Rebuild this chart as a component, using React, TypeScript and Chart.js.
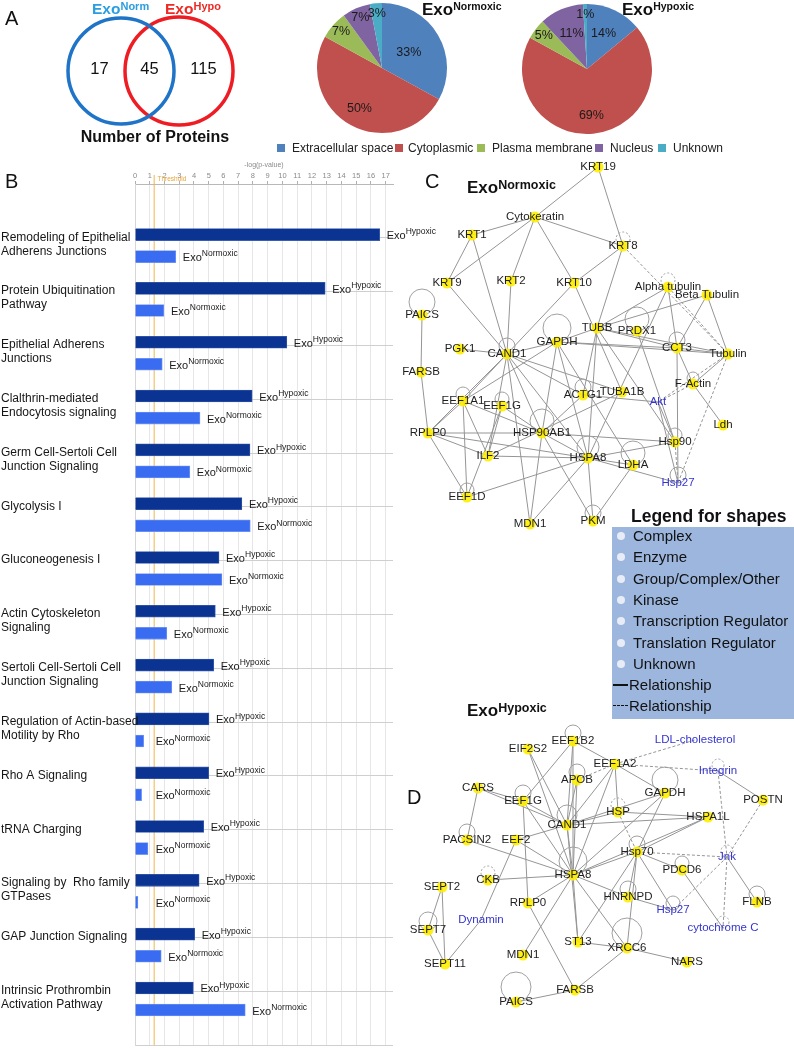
import React, { useEffect, useRef } from "react";
import { Chart, registerables } from "chart.js";

Chart.register(...registerables);

const FONT = '"Liberation Sans", Arial, Helvetica, sans-serif';

// ---------- Panel A: Venn ----------
const vennCounts = [17, 45, 115];
const vennSetNames = ["Norm", "Hypo"];
const vennColors = ["#1f74c7", "#ee1d23"];

// ---------- Panel A: pies ----------
const locations = ["Extracellular space", "Cytoplasmic", "Plasma membrane", "Nucleus", "Unknown"];
const normoxicPct = [33, 50, 7, 7, 3];
const hypoxicPct = [14, 69, 5, 11, 1];
const locationColors = ["#4F81BD", "#C0504D", "#9BBB59", "#8064A2", "#4BACC6"];

// ---------- Panel B: pathways ----------
const pathways: string[][] = [
  ["Remodeling of Epithelial", "Adherens Junctions"],
  ["Protein Ubiquitination", "Pathway"],
  ["Epithelial Adherens", "Junctions"],
  ["Clalthrin-mediated", "Endocytosis signaling"],
  ["Germ Cell-Sertoli Cell", "Junction Signaling"],
  ["Glycolysis I"],
  ["Gluconeogenesis I"],
  ["Actin Cytoskeleton", "Signaling"],
  ["Sertoli Cell-Sertoli Cell", "Junction Signaling"],
  ["Regulation of Actin-based", "Motility by Rho"],
  ["Rho A Signaling"],
  ["tRNA Charging"],
  ["Signaling by  Rho family", "GTPases"],
  ["GAP Junction Signaling"],
  ["Intrinsic Prothrombin", "Activation Pathway"],
];
const hypoxicLogP = [16.6, 12.9, 10.3, 7.95, 7.8, 7.25, 5.7, 5.45, 5.34, 5.02, 5.0, 4.66, 4.35, 4.05, 3.96];
const normoxicLogP = [2.77, 1.96, 1.85, 4.41, 3.72, 7.82, 5.9, 2.16, 2.5, 0.59, 0.45, 0.88, 0.2, 1.78, 7.48];
const pValueTicks = [0, 1, 2, 3, 4, 5, 6, 7, 8, 9, 10, 11, 12, 13, 14, 15, 16, 17];
const thresholdValue = 1.3;

// ---------- Panels C / D: networks ----------
type NodeRow = [string, number, number, string];
type EdgeRow = [string, string, number?];
type LoopRow = [string, number, number?];

const networkNormoxicNodes: NodeRow[] = [
  ["KRT19", 203, 12, "y"], ["Cytokeratin", 140, 62, "y"], ["KRT1", 77, 80, "y"], ["KRT8", 228, 91, "y"],
  ["KRT9", 52, 128, "y"], ["KRT2", 116, 126, "y"], ["KRT10", 179, 128, "y"], ["Alpha tubulin", 273, 132, "y"],
  ["Beta Tubulin", 312, 140, "y"], ["PAICS", 27, 160, "y"], ["TUBB", 202, 173, "y"], ["PRDX1", 242, 176, "y"],
  ["GAPDH", 162, 187, "y"], ["PGK1", 65, 194, "y"], ["CAND1", 112, 199, "y"], ["CCT3", 282, 193, "y"],
  ["Tubulin", 333, 199, "y"], ["FARSB", 26, 217, "y"], ["F-Actin", 298, 229, "y"], ["EEF1A1", 68, 246, "y"],
  ["EEF1G", 107, 251, "y"], ["ACTG1", 188, 240, "y"], ["TUBA1B", 227, 237, "y"], ["Akt", 263, 247, "b"],
  ["Ldh", 328, 270, "y"], ["RPLP0", 33, 278, "y"], ["HSP90AB1", 147, 278, "y"], ["Hsp90", 280, 287, "y"],
  ["ILF2", 93, 301, "y"], ["HSPA8", 193, 303, "y"], ["LDHA", 238, 310, "y"], ["Hsp27", 283, 328, "b"],
  ["EEF1D", 72, 342, "y"], ["MDN1", 135, 369, "y"], ["PKM", 198, 366, "y"],
];
const networkNormoxicEdges: EdgeRow[] = [
  ["KRT19", "Cytokeratin"], ["KRT19", "KRT8"], ["Cytokeratin", "KRT1"], ["Cytokeratin", "KRT2"],
  ["Cytokeratin", "KRT10"], ["Cytokeratin", "KRT8"], ["Cytokeratin", "KRT9"], ["KRT1", "KRT9"],
  ["KRT1", "CAND1"], ["KRT8", "KRT10"], ["KRT8", "TUBB"], ["KRT8", "Tubulin", 1], ["KRT9", "CAND1"],
  ["KRT2", "CAND1"], ["KRT10", "CAND1"], ["KRT10", "TUBA1B"], ["PAICS", "FARSB"], ["FARSB", "RPLP0"],
  ["Alpha tubulin", "TUBB"], ["Beta Tubulin", "TUBB"], ["Alpha tubulin", "Tubulin", 1], ["Beta Tubulin", "Tubulin"],
  ["Alpha tubulin", "CCT3"], ["Beta Tubulin", "CCT3"], ["Alpha tubulin", "HSPA8"], ["GAPDH", "CAND1"],
  ["GAPDH", "HSPA8"], ["GAPDH", "TUBB"], ["GAPDH", "HSP90AB1"], ["GAPDH", "Tubulin"], ["GAPDH", "CCT3"],
  ["GAPDH", "EEF1A1"], ["GAPDH", "LDHA"], ["PGK1", "CAND1"], ["CAND1", "EEF1A1"], ["CAND1", "RPLP0"],
  ["CAND1", "HSP90AB1"], ["CAND1", "HSPA8"], ["CAND1", "ILF2"], ["CAND1", "ACTG1"], ["CAND1", "TUBA1B"],
  ["CAND1", "MDN1"], ["TUBB", "CCT3"], ["TUBB", "Tubulin"], ["TUBB", "ACTG1"], ["TUBB", "HSPA8"],
  ["TUBB", "Hsp90"], ["PRDX1", "Hsp90"], ["CCT3", "Tubulin"], ["CCT3", "F-Actin"], ["CCT3", "Hsp27"],
  ["Tubulin", "F-Actin"], ["Tubulin", "Akt", 1], ["F-Actin", "Ldh"], ["F-Actin", "Akt", 1], ["Akt", "Hsp90"],
  ["Akt", "Hsp27"], ["Hsp90", "Hsp27", 1], ["Hsp90", "HSPA8"], ["Tubulin", "Hsp27", 1], ["EEF1A1", "RPLP0"],
  ["EEF1A1", "EEF1D"], ["EEF1A1", "ILF2"], ["EEF1G", "ILF2"], ["EEF1G", "EEF1D"], ["EEF1G", "HSP90AB1"],
  ["EEF1A1", "HSP90AB1"], ["RPLP0", "EEF1D"], ["RPLP0", "ILF2"], ["RPLP0", "HSP90AB1"], ["RPLP0", "HSPA8"],
  ["HSP90AB1", "MDN1"], ["HSP90AB1", "PKM"], ["HSP90AB1", "HSPA8"], ["HSP90AB1", "ACTG1"], ["HSP90AB1", "Hsp90"],
  ["HSPA8", "LDHA"], ["HSPA8", "Hsp27"], ["HSPA8", "PKM"], ["HSPA8", "MDN1"], ["HSPA8", "EEF1D"],
  ["LDHA", "PKM"], ["ILF2", "HSPA8"], ["ILF2", "TUBA1B"], ["ACTG1", "Akt"],
];
const networkNormoxicLoops: LoopRow[] = [
  ["PAICS", 13], ["GAPDH", 14], ["PRDX1", 12], ["CAND1", 8], ["CCT3", 8], ["HSP90AB1", 12], ["HSPA8", 11],
  ["LDHA", 12], ["Hsp90", 7], ["Hsp27", 8], ["EEF1D", 7], ["EEF1A1", 7], ["EEF1G", 7], ["ACTG1", 8],
  ["KRT8", 7, 1], ["Alpha tubulin", 7, 1], ["PKM", 8], ["F-Actin", 6],
];

const networkHypoxicNodes: NodeRow[] = [
  ["EIF2S2", 133, 59, "y"], ["EEF1B2", 178, 51, "y"], ["LDL-cholesterol", 300, 50, "b"], ["EEF1A2", 220, 74, "y"],
  ["Integrin", 323, 81, "b"], ["APOB", 182, 90, "y"], ["CARS", 83, 98, "y"], ["GAPDH", 270, 103, "y"],
  ["POSTN", 368, 110, "y"], ["EEF1G", 128, 111, "y"], ["HSP", 223, 122, "y"], ["HSPA1L", 313, 127, "y"],
  ["CAND1", 172, 135, "y"], ["PACSIN2", 72, 150, "y"], ["EEF2", 121, 150, "y"], ["Hsp70", 242, 162, "y"],
  ["Jnk", 332, 167, "b"], ["PDCD6", 287, 180, "y"], ["CKB", 93, 190, "y"], ["HSPA8", 178, 185, "y"],
  ["SEPT2", 47, 197, "y"], ["HNRNPD", 233, 207, "y"], ["FLNB", 362, 212, "y"], ["RPLP0", 133, 213, "y"],
  ["Hsp27", 278, 220, "b"], ["Dynamin", 86, 230, "b"], ["cytochrome C", 328, 238, "b"], ["SEPT7", 33, 240, "y"],
  ["ST13", 183, 252, "y"], ["XRCC6", 232, 258, "y"], ["MDN1", 128, 265, "y"], ["NARS", 292, 272, "y"],
  ["SEPT11", 50, 274, "y"], ["FARSB", 180, 300, "y"], ["PAICS", 121, 312, "y"],
];
const networkHypoxicEdges: EdgeRow[] = [
  ["EIF2S2", "HSPA8"], ["EIF2S2", "CAND1"], ["EEF1B2", "EEF1A2"], ["EEF1B2", "CAND1"], ["EEF1B2", "EEF1G"],
  ["EEF1B2", "HSPA8"], ["EEF1A2", "LDL-cholesterol", 1], ["EEF1A2", "Integrin", 1], ["EEF1A2", "GAPDH"],
  ["EEF1A2", "APOB", 1], ["EEF1A2", "CAND1"], ["EEF1A2", "HSP"], ["EEF1A2", "HSPA8"], ["Integrin", "POSTN"],
  ["Integrin", "Jnk", 1], ["APOB", "CAND1"], ["APOB", "HSPA8"], ["CARS", "EEF1G"], ["CARS", "CAND1"],
  ["CARS", "PACSIN2"], ["GAPDH", "CAND1"], ["GAPDH", "Hsp70"], ["GAPDH", "HSPA8"], ["POSTN", "Jnk", 1],
  ["EEF1G", "CAND1"], ["EEF1G", "HSPA8"], ["EEF1G", "RPLP0"], ["HSP", "HSPA1L"], ["HSP", "Hsp70", 1],
  ["HSP", "CAND1"], ["HSPA1L", "CAND1"], ["HSPA1L", "Hsp70"], ["HSPA1L", "HSPA8"], ["CAND1", "HSPA8"],
  ["CAND1", "EEF2"], ["CAND1", "ST13"], ["EEF2", "HSPA8"], ["EEF2", "Dynamin"], ["Hsp70", "Jnk", 1],
  ["Hsp70", "HSPA8"], ["Hsp70", "HNRNPD"], ["Hsp70", "XRCC6"], ["Hsp70", "ST13"], ["Hsp70", "PDCD6"],
  ["Hsp70", "Hsp27"], ["Jnk", "cytochrome C", 1], ["Jnk", "Hsp27", 1], ["Jnk", "FLNB"], ["PDCD6", "cytochrome C"],
  ["CKB", "HSPA8"], ["HSPA8", "HNRNPD"], ["HSPA8", "ST13"], ["HSPA8", "MDN1"], ["HSPA8", "RPLP0"],
  ["HSPA8", "XRCC6"], ["SEPT2", "SEPT7"], ["SEPT2", "SEPT11"], ["SEPT7", "SEPT11"], ["SEPT11", "Dynamin"],
  ["HNRNPD", "Hsp27"], ["RPLP0", "FARSB"], ["FARSB", "PAICS"], ["FARSB", "XRCC6"], ["ST13", "XRCC6"],
  ["XRCC6", "NARS"], ["PACSIN2", "HSPA8"],
];
const networkHypoxicLoops: LoopRow[] = [
  ["EEF1B2", 8], ["APOB", 8], ["GAPDH", 13], ["EEF1G", 8], ["CAND1", 10], ["PACSIN2", 8], ["HSPA8", 14],
  ["Hsp70", 8], ["HSP", 7, 1], ["PDCD6", 7], ["CKB", 7, 1], ["HNRNPD", 8], ["Hsp27", 7], ["Integrin", 6, 1],
  ["Jnk", 6, 1], ["cytochrome C", 6, 1], ["FLNB", 8], ["SEPT7", 9], ["XRCC6", 15], ["PAICS", 15],
];

const shapeLegend = [
  "Complex", "Enzyme", "Group/Complex/Other", "Kinase", "Transcription Regulator",
  "Translation Regulator", "Unknown",
];

// ---------- helpers ----------
function ChartCanvas({ left, top, width, height, config }: any) {
  const ref = useRef<HTMLCanvasElement>(null);
  useEffect(() => {
    if (!ref.current) return;
    const chart = new Chart(ref.current, config());
    return () => chart.destroy();
  }, []);
  return (
    <canvas
      ref={ref}
      width={width}
      height={height}
      style={{ position: "absolute", left, top, width, height }}
    />
  );
}

function ExoTitle({ x, baseline, size, supSize, sup, color = "#111", bold = true }: any) {
  return (
    <div
      style={{
        position: "absolute",
        left: x,
        top: baseline - 0.8465 * size,
        fontFamily: FONT,
        fontSize: size,
        fontWeight: bold ? 700 : 400,
        color,
        whiteSpace: "nowrap",
        lineHeight: 1,
      }}
    >
      <span>Exo</span>
      <span style={{ fontSize: supSize, position: "relative", top: -0.78 * (size - supSize) }}>{sup}</span>
    </div>
  );
}

function Letter({ x, baseline, text, size = 21 }: any) {
  return (
    <div
      style={{
        position: "absolute",
        left: x,
        top: baseline - 0.8465 * size,
        fontFamily: FONT,
        fontSize: size,
        lineHeight: 1,
        color: "#111",
      }}
    >
      {text}
    </div>
  );
}

const baseOpts = {
  responsive: false,
  animation: false,
  devicePixelRatio: 1,
  events: [],
  plugins: { legend: { display: false }, tooltip: { enabled: false } },
};

// ---------- Venn ----------
function vennConfig() {
  const plugin = {
    id: "vennCounts",
    afterDatasetsDraw(chart: any) {
      const { ctx } = chart;
      const pts = chart.data.datasets.map((ds: any, i: number) => {
        const el = chart.getDatasetMeta(i).data[0];
        return { x: el.x, y: el.y, r: ds.pointRadius };
      });
      const [a, b] = pts;
      const xs = [
        (a.x - a.r + b.x - b.r) / 2 + 3,
        (b.x - b.r + a.x + a.r) / 2,
        (a.x + a.r + b.x + b.r) / 2,
      ];
      ctx.save();
      ctx.fillStyle = "#111";
      ctx.font = `16.5px ${FONT}`;
      ctx.textAlign = "center";
      ctx.textBaseline = "middle";
      vennCounts.forEach((c, i) => ctx.fillText(String(c), xs[i], (a.y + b.y) / 2 - 2));
      ctx.restore();
    },
  };
  return {
    type: "scatter",
    data: {
      datasets: [
        { data: [{ x: 121, y: 71 }], clip: false, pointRadius: 53, pointBorderWidth: 3.5, pointBorderColor: vennColors[0], pointBackgroundColor: "rgba(0,0,0,0)" },
        { data: [{ x: 179, y: 71 }], clip: false, pointRadius: 54, pointBorderWidth: 3.5, pointBorderColor: vennColors[1], pointBackgroundColor: "rgba(0,0,0,0)" },
      ],
    },
    options: {
      ...baseOpts,
      layout: { padding: 0, autoPadding: false },
      scales: {
        x: { type: "linear", min: 0, max: 280, display: false },
        y: { type: "linear", min: 0, max: 160, reverse: true, display: false },
      },
    },
    plugins: [plugin],
  };
}

// ---------- Pies ----------
function pieConfig(values: number[], pad: number) {
  const plugin = {
    id: "pieLabels",
    afterDatasetsDraw(chart: any) {
      const { ctx } = chart;
      const meta = chart.getDatasetMeta(0);
      ctx.save();
      ctx.fillStyle = "#1a1a1a";
      ctx.font = `12.5px ${FONT}`;
      ctx.textAlign = "center";
      ctx.textBaseline = "middle";
      meta.data.forEach((arc: any, i: number) => {
        const p = arc.getProps(["x", "y", "startAngle", "endAngle", "outerRadius"], true);
        const mid = (p.startAngle + p.endAngle) / 2;
        const v = values[i];
        const f = v < 10 ? 0.84 : v < 20 ? 0.6 : v < 45 ? 0.48 : 0.72;
        ctx.fillText(`${v}%`, p.x + Math.cos(mid) * p.outerRadius * f, p.y + Math.sin(mid) * p.outerRadius * f);
      });
      ctx.restore();
    },
  };
  return {
    type: "pie",
    data: {
      labels: locations,
      datasets: [{ data: values, backgroundColor: locationColors, borderWidth: 0 }],
    },
    options: { ...baseOpts, layout: { padding: pad } },
    plugins: [plugin],
  };
}

// ---------- Bars ----------
const HYP_POS = 0.44;
const NORM_POS = 0.85;
const LABEL_POS = 0.49;

function barConfig() {
  const labelPlugin = {
    id: "barDecor",
    beforeDatasetsDraw(chart: any) {
      const { ctx, chartArea } = chart;
      const xs = chart.scales.x;
      const tx = xs.getPixelForValue(thresholdValue);
      ctx.save();
      ctx.strokeStyle = "#f2b64a";
      ctx.lineWidth = 1;
      ctx.beginPath();
      ctx.moveTo(tx, chartArea.top - 9);
      ctx.lineTo(tx, chartArea.bottom);
      ctx.stroke();
      ctx.fillStyle = "#e8a53a";
      ctx.font = `6.5px ${FONT}`;
      ctx.textAlign = "center";
      ctx.textBaseline = "middle";
      ctx.fillText("Threshold", xs.getPixelForValue(2.5), chartArea.top - 5);
      ctx.restore();
    },
    afterDatasetsDraw(chart: any) {
      const { ctx } = chart;
      const xs = chart.scales.x;
      const ys = chart.scales.y;
      const minX = xs.getPixelForValue(1.4);
      ctx.save();
      ctx.fillStyle = "#1a1a1a";
      ctx.textBaseline = "middle";
      ctx.textAlign = "left";
      chart.data.datasets.forEach((ds: any, di: number) => {
        chart.getDatasetMeta(di).data.forEach((bar: any) => {
          const x = Math.max(bar.x + 7, minX);
          ctx.font = `11px ${FONT}`;
          ctx.fillText("Exo", x, bar.y + 1.5);
          const w = ctx.measureText("Exo").width;
          ctx.font = `8.5px ${FONT}`;
          ctx.fillText(ds.label, x + w, bar.y - 2.5);
        });
      });
      ctx.font = `12px ${FONT}`;
      ctx.fillStyle = "#161616";
      pathways.forEach((lines, i) => {
        const y0 = ys.getPixelForValue(i + LABEL_POS);
        lines.forEach((l, k) => ctx.fillText(l, 1, y0 + k * 14));
      });
      ctx.restore();
    },
  };
  return {
    type: "bar",
    data: {
      datasets: [
        {
          label: "Hypoxic",
          data: hypoxicLogP.map((v, i) => ({ x: v, y: i + HYP_POS })),
          backgroundColor: "#0b3391",
          borderColor: "#3a5db0",
          borderWidth: 0.8,
          barThickness: 12,
          grouped: false,
        },
        {
          label: "Normoxic",
          data: normoxicLogP.map((v, i) => ({ x: v, y: i + NORM_POS })),
          backgroundColor: "#3a6cf2",
          borderColor: "#7a9bf5",
          borderWidth: 0.8,
          barThickness: 12,
          grouped: false,
        },
      ],
    },
    options: {
      ...baseOpts,
      indexAxis: "y",
      layout: { padding: { left: 0, right: 77, top: 0, bottom: 5 } },
      scales: {
        x: {
          type: "linear",
          position: "top",
          min: 0,
          max: 17.5,
          afterBuildTicks: (s: any) => {
            s.ticks = pValueTicks.map((v) => ({ value: v }));
          },
          afterFit: (s: any) => {
            s.height = 26;
          },
          ticks: {
            font: { size: 7.5, family: FONT },
            color: "#8a8a8a",
            padding: 1,
            maxRotation: 0,
            autoSkip: false,
          },
          grid: { color: "#e6e6e6", tickLength: 3, tickColor: "#b0b0b0" },
          border: { color: "#b8b8b8" },
          title: {
            display: true,
            text: "-log(p-value)",
            font: { size: 7, family: FONT },
            color: "#8a8a8a",
            padding: { top: 3, bottom: 0 },
          },
        },
        y: {
          type: "linear",
          min: 0,
          max: 15,
          reverse: true,
          ticks: { stepSize: 1, display: false },
          grid: { color: "#cfcfcf", drawTicks: false },
          border: { color: "#d6d6d6" },
          afterFit: (s: any) => {
            s.width = 135;
          },
        },
      },
    },
    plugins: [labelPlugin],
  };
}

// ---------- Networks ----------
function networkConfig(nodes: NodeRow[], edges: EdgeRow[], loops: LoopRow[], w: number, h: number) {
  const idx = new Map(nodes.map((n, i) => [n[0], i]));
  const plugin = {
    id: "network",
    beforeDatasetsDraw(chart: any) {
      const { ctx } = chart;
      const xs = chart.scales.x;
      const ys = chart.scales.y;
      const p = (name: string) => {
        const n = nodes[idx.get(name) as number];
        return [xs.getPixelForValue(n[1]), ys.getPixelForValue(n[2])];
      };
      ctx.save();
      ctx.strokeStyle = "#959595";
      ctx.lineWidth = 1;
      edges.forEach(([a, b, d]) => {
        const [x1, y1] = p(a);
        const [x2, y2] = p(b);
        ctx.setLineDash(d ? [3, 2] : []);
        ctx.beginPath();
        ctx.moveTo(x1, y1);
        ctx.lineTo(x2, y2);
        ctx.stroke();
      });
      ctx.strokeStyle = "#a0a0a0";
      loops.forEach(([name, r, d]) => {
        const [x, y] = p(name);
        ctx.setLineDash(d ? [2, 2] : []);
        ctx.beginPath();
        ctx.arc(x, y - r, r, 0, Math.PI * 2);
        ctx.stroke();
      });
      ctx.restore();
    },
    afterDatasetsDraw(chart: any) {
      const { ctx } = chart;
      const xs = chart.scales.x;
      const ys = chart.scales.y;
      ctx.save();
      ctx.font = `11.5px ${FONT}`;
      ctx.textAlign = "center";
      ctx.textBaseline = "middle";
      nodes.forEach((n) => {
        ctx.fillStyle = n[3] === "b" ? "#3535cf" : "#1e1e1e";
        ctx.fillText(n[0], xs.getPixelForValue(n[1]), ys.getPixelForValue(n[2]));
      });
      ctx.restore();
    },
  };
  return {
    type: "scatter",
    data: {
      datasets: [
        {
          data: nodes.map((n) => ({ x: n[1], y: n[2] })),
          clip: false,
          pointRadius: nodes.map((n) => (n[3] === "b" ? 0 : 5.5)),
          pointBackgroundColor: "rgba(255,238,0,0.9)",
          pointBorderWidth: 0,
        },
      ],
    },
    options: {
      ...baseOpts,
      layout: { padding: 0, autoPadding: false },
      scales: {
        x: { type: "linear", min: 0, max: w, display: false },
        y: { type: "linear", min: 0, max: h, reverse: true, display: false },
      },
    },
    plugins: [plugin],
  };
}

// ---------- App ----------
const legendSquares = [277, 395, 477, 595, 658];
const legendTexts = [292, 408, 492, 610, 673];

export default function App() {
  return (
    <div
      style={{
        position: "absolute",
        left: 0,
        top: 0,
        width: 794,
        height: 1050,
        background: "#fff",
        overflow: "hidden",
        fontFamily: FONT,
      }}
    >
      {/* Panel A */}
      <ChartCanvas left={0} top={0} width={280} height={160} config={vennConfig} />
      <ChartCanvas left={314} top={0} width={136} height={136} config={() => pieConfig(normoxicPct, 3)} />
      <ChartCanvas left={519} top={1} width={136} height={136} config={() => pieConfig(hypoxicPct, 3)} />
      <Letter x={5} baseline={25} text="A" size={20} />
      <ExoTitle x={92} baseline={14} size={15.5} supSize={11} sup={vennSetNames[0]} color="#2a9ee0" />
      <ExoTitle x={165} baseline={14} size={15.5} supSize={11} sup={vennSetNames[1]} color="#ee2a24" />
      <div
        style={{
          position: "absolute",
          left: 0,
          width: 310,
          top: 128,
          textAlign: "center",
          fontWeight: 700,
          fontSize: 16,
          lineHeight: "18px",
          color: "#111",
        }}
      >
        Number of Proteins
      </div>
      <ExoTitle x={422} baseline={15} size={17} supSize={10.5} sup="Normoxic" />
      <ExoTitle x={622} baseline={15} size={17} supSize={10.5} sup="Hypoxic" />
      {locations.map((name, i) => (
        <React.Fragment key={name}>
          <div
            style={{
              position: "absolute",
              left: legendSquares[i],
              top: 144,
              width: 8,
              height: 8,
              background: locationColors[i],
            }}
          />
          <div
            style={{
              position: "absolute",
              left: legendTexts[i],
              top: 141,
              fontSize: 12,
              lineHeight: "14px",
              color: "#222",
              whiteSpace: "nowrap",
            }}
          >
            {name}
          </div>
        </React.Fragment>
      ))}

      {/* Panel B */}
      <ChartCanvas left={0} top={158} width={470} height={892} config={barConfig} />
      <Letter x={5} baseline={188} text="B" size={20} />

      {/* Panel C */}
      <ChartCanvas
        left={395}
        top={155}
        width={399}
        height={380}
        config={() => networkConfig(networkNormoxicNodes, networkNormoxicEdges, networkNormoxicLoops, 399, 380)}
      />
      <Letter x={425} baseline={188} text="C" size={20} />
      <ExoTitle x={467} baseline={193} size={17} supSize={12.5} sup="Normoxic" />

      {/* Shape legend */}
      <div
        style={{
          position: "absolute",
          left: 612,
          top: 527,
          width: 182,
          height: 192,
          background: "#9cb6de",
        }}
      />
      <div
        style={{
          position: "absolute",
          left: 631,
          top: 506,
          fontSize: 17.5,
          fontWeight: 700,
          lineHeight: "20px",
          color: "#111",
          whiteSpace: "nowrap",
        }}
      >
        Legend for shapes
      </div>
      {shapeLegend.map((name, i) => (
        <React.Fragment key={name}>
          <div
            style={{
              position: "absolute",
              left: 617,
              top: 532 + i * 21.3,
              width: 8,
              height: 8,
              borderRadius: 4,
              background: "#f4f6fb",
              opacity: 0.85,
            }}
          />
          <div
            style={{
              position: "absolute",
              left: 633,
              top: 527 + i * 21.3,
              fontSize: 15,
              lineHeight: "18px",
              color: "#111",
              whiteSpace: "nowrap",
            }}
          >
            {name}
          </div>
        </React.Fragment>
      ))}
      <div style={{ position: "absolute", left: 613, top: 684, width: 15, height: 1.5, background: "#111" }} />
      <div style={{ position: "absolute", left: 629, top: 676, fontSize: 15, lineHeight: "18px", color: "#111" }}>
        Relationship
      </div>
      <div
        style={{
          position: "absolute",
          left: 613,
          top: 705,
          width: 15,
          height: 0,
          borderTop: "1.5px dashed #111",
        }}
      />
      <div style={{ position: "absolute", left: 629, top: 697, fontSize: 15, lineHeight: "18px", color: "#111" }}>
        Relationship
      </div>

      {/* Panel D */}
      <ChartCanvas
        left={395}
        top={690}
        width={399}
        height={360}
        config={() => networkConfig(networkHypoxicNodes, networkHypoxicEdges, networkHypoxicLoops, 399, 360)}
      />
      <Letter x={407} baseline={804} text="D" size={20} />
      <ExoTitle x={467} baseline={716} size={17} supSize={12.5} sup="Hypoxic" />
    </div>
  );
}
